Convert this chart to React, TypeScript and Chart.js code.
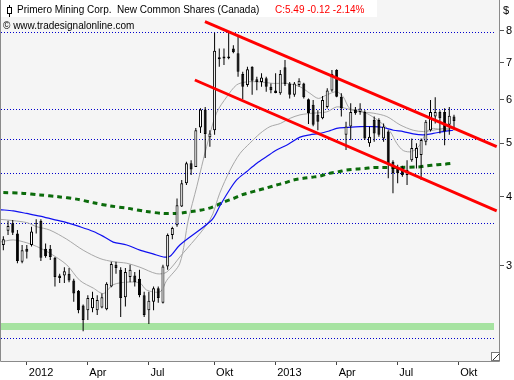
import React, { useEffect, useRef } from "react";
import { Chart, registerables } from "chart.js";

Chart.register(...registerables);

// ---- weekly candles (first candle = week -5, week 0 = first week of 2012) ----
const FIRST_WEEK = -5;
const opens = [
  3.27, 3.47, 3.58, 3.43, 3.05, 3.22, 3.27, 3.58, 3.62, 3.22,
  3.22, 3.10, 2.88, 2.88, 2.90, 2.82, 2.70, 2.54, 2.49, 2.51,
  2.49, 2.52, 2.50, 2.75, 3.01, 2.95, 2.63, 2.86, 2.88, 2.84,
  2.65, 2.49, 2.58, 2.73, 2.57, 2.99, 3.41, 3.55, 3.84, 4.23,
  4.60, 4.53, 5.34, 5.76, 5.13, 5.28, 7.10, 7.18, 7.18, 7.43,
  7.28, 6.68, 6.38, 6.88, 6.53, 6.46, 6.56, 6.33, 6.23, 6.16,
  6.87, 6.42, 6.12, 6.38, 6.42, 6.01, 5.87, 5.63, 5.55, 5.82,
  6.23, 6.79, 6.07, 5.18, 5.36, 5.76, 5.70, 5.70, 5.00, 5.51,
  5.51, 5.10, 5.25, 4.63, 4.52, 4.52, 4.38, 4.66, 4.70, 4.76,
  5.03, 5.28, 5.59, 5.70, 5.70, 5.40, 5.59,
];
const highs = [
  3.39, 3.62, 3.63, 3.48, 3.27, 3.27, 3.53, 3.64, 3.64, 3.29,
  3.27, 3.11, 2.90, 2.98, 2.97, 2.84, 2.71, 2.55, 2.65, 2.69,
  2.65, 2.67, 2.80, 3.05, 3.05, 2.98, 2.97, 3.01, 2.92, 2.95,
  2.69, 2.69, 2.75, 2.75, 3.01, 3.43, 3.53, 3.97, 4.29, 4.63,
  4.66, 5.33, 5.79, 5.82, 5.28, 7.93, 7.43, 7.43, 7.96, 7.53,
  7.86, 6.74, 6.88, 6.90, 6.60, 6.70, 6.60, 6.42, 6.70, 6.79,
  7.08, 6.46, 6.46, 6.56, 6.44, 6.03, 5.99, 5.74, 6.09, 6.29,
  6.79, 6.81, 6.16, 5.47, 5.91, 5.82, 5.91, 5.74, 5.36, 5.59,
  5.55, 5.43, 5.28, 4.66, 4.57, 4.55, 4.66, 5.10, 5.00, 5.10,
  5.51, 5.99, 6.06, 5.74, 5.79, 5.82, 5.63,
];
const lows = [
  3.20, 3.41, 3.41, 3.03, 3.03, 3.09, 3.25, 3.43, 3.06, 3.10,
  3.07, 2.75, 2.79, 2.79, 2.80, 2.58, 2.46, 2.28, 2.39, 2.47,
  2.44, 2.51, 2.49, 2.74, 2.90, 2.42, 2.53, 2.80, 2.75, 2.63,
  2.42, 2.35, 2.49, 2.57, 2.56, 2.95, 3.35, 3.53, 3.83, 4.20,
  4.38, 4.53, 5.22, 4.70, 4.93, 5.18, 6.88, 6.93, 7.10, 7.28,
  6.60, 6.01, 6.33, 6.12, 6.24, 6.33, 6.20, 6.16, 6.16, 6.12,
  6.35, 6.03, 6.07, 6.33, 6.03, 5.42, 5.37, 5.28, 5.53, 5.78,
  6.20, 6.06, 5.59, 4.86, 5.07, 5.63, 5.63, 5.07, 4.93, 5.03,
  5.14, 5.03, 4.32, 4.06, 4.23, 4.35, 4.20, 4.63, 4.50, 4.29,
  4.96, 5.25, 5.43, 5.21, 4.96, 5.18, 5.28,
];
const closes = [
  3.35, 3.54, 3.44, 3.06, 3.20, 3.18, 3.46, 3.57, 3.10, 3.12,
  3.11, 2.86, 2.85, 2.93, 2.82, 2.67, 2.49, 2.39, 2.62, 2.62,
  2.60, 2.63, 2.78, 3.02, 2.97, 2.62, 2.92, 2.95, 2.80, 2.65,
  2.44, 2.59, 2.73, 2.62, 2.99, 3.41, 3.51, 3.86, 4.23, 4.60,
  4.48, 5.28, 5.76, 5.20, 5.21, 7.36, 7.16, 7.12, 7.13, 7.31,
  6.74, 6.33, 6.81, 6.49, 6.46, 6.58, 6.33, 6.24, 6.17, 6.68,
  6.40, 6.12, 6.42, 6.49, 6.06, 5.67, 5.40, 5.47, 5.99, 6.23,
  6.68, 6.07, 5.78, 5.36, 5.70, 5.67, 5.78, 5.10, 5.14, 5.21,
  5.18, 5.36, 4.60, 4.41, 4.41, 4.38, 4.47, 4.90, 4.90, 5.07,
  5.47, 5.70, 5.70, 5.55, 5.25, 5.61, 5.49,
];

// ---- averages (week, price) ----
const grayFastWeeks = [-5.7, -2.9, 0, 2.1, 4.9, 8.5, 11.3, 14.2, 16.3, 18.4, 21.3, 24.1, 25.5, 28.4, 29.8, 32.6, 34.4, 36.2, 38.3, 40.4, 42.6, 44.7, 46.8, 49.7, 52.5, 55.4, 58.2, 60.3, 62.1, 63.9, 66, 67.4, 68.8, 70.9, 73, 75.2, 77.4, 78.8, 80.2, 82, 83.7, 85.2, 86.6, 88.7, 90.8];
const grayFastValues = [3.31, 3.34, 3.30, 3.25, 3.16, 3.01, 2.82, 2.73, 2.67, 2.77, 2.80, 2.79, 2.71, 2.69, 2.82, 3.03, 3.63, 4.17, 4.93, 5.67, 6.07, 6.38, 6.46, 6.46, 6.42, 6.42, 6.33, 6.16, 6.03, 6.12, 6.20, 6.07, 5.78, 5.74, 5.63, 5.47, 5.25, 5.00, 4.85, 4.83, 4.96, 5.25, 5.32, 5.28, 5.32];
const graySlowWeeks = [-5.7, -2.9, 0, 2.1, 4.9, 8.5, 12, 15.6, 18.4, 21.3, 24.1, 27.7, 29.8, 32.6, 39, 41.1, 43.3, 45.4, 47.5, 49.7, 51.8, 54, 56.1, 58.2, 61, 63.9, 66, 68.1, 70.9, 73.8, 76.7, 79.5, 82.3, 84.5, 86.6, 88.7, 90.8];
const graySlowValues = [3.64, 3.62, 3.59, 3.53, 3.48, 3.35, 3.20, 3.09, 3.05, 3.03, 2.98, 2.90, 2.92, 3.11, 3.63, 4.06, 4.47, 4.79, 5.00, 5.21, 5.36, 5.43, 5.55, 5.63, 5.67, 5.70, 5.82, 5.78, 5.70, 5.67, 5.59, 5.40, 5.28, 5.25, 5.28, 5.32, 5.32];
const blueWeeks = [-5.7, -2.9, 0, 2.8, 5.6, 8.5, 11.3, 14.2, 16.3, 18.4, 21.3, 24.1, 26.9, 29.1, 30.5, 32.6, 39.4, 41.2, 42.9, 44.7, 46.8, 49, 51.1, 53.2, 55.7, 58.2, 60.3, 62.5, 64.6, 66, 68.1, 71, 73.8, 75.9, 78.1, 80.2, 82.3, 84.5, 86.6, 88.7, 90.8];
const blueValues = [3.79, 3.77, 3.73, 3.69, 3.64, 3.59, 3.53, 3.46, 3.39, 3.31, 3.27, 3.20, 3.15, 3.11, 3.12, 3.27, 3.63, 3.86, 4.08, 4.29, 4.44, 4.60, 4.73, 4.86, 4.98, 5.13, 5.18, 5.21, 5.27, 5.32, 5.34, 5.36, 5.36, 5.34, 5.28, 5.25, 5.20, 5.18, 5.21, 5.25, 5.28];
const greenWeeks = [-5, -1.1, 2.8, 6.7, 10.6, 14.2, 17.7, 21.6, 25.5, 29.1, 31.1, 33.3, 35.1, 36.9, 38.7, 40.5, 42.2, 44, 45.8, 47.5, 49.3, 51.1, 53.2, 55, 56.8, 58.9, 60.7, 62.5, 64.4, 66.4, 68.1, 70.3, 72, 73.8, 75.6, 79.5, 83.4, 85.2, 87.2, 88.9, 90.8];
const greenValues = [4.07, 4.06, 4.03, 4.00, 3.96, 3.90, 3.85, 3.81, 3.76, 3.73, 3.73, 3.74, 3.76, 3.78, 3.81, 3.86, 3.92, 3.97, 4.03, 4.07, 4.11, 4.15, 4.20, 4.24, 4.29, 4.32, 4.34, 4.36, 4.41, 4.44, 4.47, 4.49, 4.50, 4.52, 4.52, 4.52, 4.53, 4.55, 4.57, 4.58, 4.60];

// ---- trend channel ----
const upperChannelWeeks = [37.95, 100.1];
const upperChannelValues = [8.31, 4.93];
const lowerChannelWeeks = [35.8, 100.1];
const lowerChannelValues = [6.51, 3.77];

// ---- horizontal levels ----
const supportLevels = [7.97, 5.78, 5.10, 4.42, 3.58, 2.22];
const bandLow = 2.29;
const bandHigh = 2.36;
const LEVEL_END_WEEK = 99.6;

// ---- axes ----
const xTickWeeks = [0, 12.9, 25.9, 39.9, 52.9, 66, 78.9, 91.9];
const xTickLabels = ["2012", "Apr", "Jul", "Okt", "2013", "Apr", "Jul", "Okt"];
const yTicks = [3, 4, 5, 6, 7, 8];
const X_MIN = -5.71;
const X_MAX = 100.8;
const Y_MIN = 2.0146;
const Y_MAX = 9.094;

// ---- texts ----
const titleText = "Primero Mining Corp.  New Common Shares (Canada)";
const quoteText = "C:5.49 -0.12 -2.14%";
const sourceText = "\u00A9 www.tradesignalonline.com";
const currencyText = "$";

const FONT = "'Liberation Sans', Arial, sans-serif";

const decorPlugin = {
  id: "decor",
  beforeDraw(chart: any) {
    const { ctx, chartArea: a, scales } = chart;
    ctx.save();
    ctx.fillStyle = "#ffffff";
    ctx.fillRect(0, 0, chart.width, chart.height);
    ctx.fillStyle = "#f5f5f5";
    ctx.fillRect(a.left, a.top, a.right - a.left, a.bottom - a.top);
    const yTop = scales.y.getPixelForValue(bandHigh);
    const yBot = scales.y.getPixelForValue(bandLow);
    const xEnd = scales.x.getPixelForValue(LEVEL_END_WEEK);
    ctx.fillStyle = "#a6e3a1";
    ctx.fillRect(a.left + 1, Math.round(yTop), Math.round(xEnd - a.left - 1), Math.round(yBot - yTop));
    // dotted support / resistance levels
    ctx.strokeStyle = "#0000cc";
    ctx.lineWidth = 1;
    ctx.setLineDash([1, 2]);
    supportLevels.forEach((lv) => {
      const py = Math.round(scales.y.getPixelForValue(lv)) + 0.5;
      ctx.beginPath();
      ctx.moveTo(a.left + 1, py);
      ctx.lineTo(xEnd, py);
      ctx.stroke();
    });
    ctx.restore();
  },
  afterDraw(chart: any) {
    const { ctx, chartArea: a } = chart;
    ctx.save();
    ctx.strokeStyle = "#8a8a8a";
    ctx.lineWidth = 1;
    ctx.beginPath();
    ctx.moveTo(a.left + 0.5, a.top);
    ctx.lineTo(a.left + 0.5, a.bottom + 0.5);
    ctx.lineTo(a.right - 0.5, a.bottom + 0.5);
    ctx.lineTo(a.right - 0.5, a.top);
    ctx.stroke();
    ctx.fillStyle = "#ffffff";
    ctx.fillRect(a.right - 8, a.bottom - 8, 7, 7);
    ctx.strokeStyle = "#777";
    ctx.strokeRect(a.right - 8.5, a.bottom - 8.5, 8, 8);
    ctx.beginPath();
    ctx.moveTo(a.right - 7, a.bottom - 1);
    ctx.lineTo(a.right - 1, a.bottom - 7);
    ctx.strokeStyle = "#333";
    ctx.stroke();
    ctx.fillStyle = "#ffffff";
    ctx.fillRect(1, 0, 376, 17);
    ctx.strokeStyle = "#000";
    ctx.beginPath();
    ctx.moveTo(9.5, 5);
    ctx.lineTo(9.5, 17);
    ctx.stroke();
    ctx.fillStyle = "#ffffff";
    ctx.fillRect(7.5, 7.5, 4, 6);
    ctx.strokeRect(7.5, 7.5, 4, 6);
    ctx.font = `10px ${FONT}`;
    ctx.textBaseline = "alphabetic";
    ctx.textAlign = "left";
    ctx.fillStyle = "#000";
    ctx.fillText(titleText, 17, 13, 255);
    ctx.fillStyle = "#ff0000";
    ctx.fillText(quoteText, 275, 13, 100);
    ctx.fillStyle = "#000";
    ctx.fillText(sourceText, 3, 29);
    ctx.font = `11px ${FONT}`;
    ctx.fillText(currencyText, 503, 14);
    ctx.restore();
  },
};

export default function App() {
  const ref = useRef<HTMLCanvasElement>(null);

  useEffect(() => {
    const canvas = ref.current;
    if (!canvas) return;
    const weeks = opens.map((_, i) => FIRST_WEEK + i);
    const xy = (ws: number[], vs: number[]) => ws.map((w, i) => ({ x: w, y: vs[i] }));
    const datasets: any[] = [];

    datasets.push({
      type: "line",
      data: xy(greenWeeks, greenValues),
      borderColor: "#0b6b0b",
      borderWidth: 3,
      borderDash: [5, 4],
      pointRadius: 0,
      tension: 0.3,
      order: 19,
    });
    datasets.push({
      type: "line",
      data: xy(graySlowWeeks, graySlowValues),
      borderColor: "#a8a8a8",
      borderWidth: 1,
      pointRadius: 0,
      tension: 0.3,
      order: 18,
    });
    datasets.push({
      type: "line",
      data: xy(grayFastWeeks, grayFastValues),
      borderColor: "#a8a8a8",
      borderWidth: 1,
      pointRadius: 0,
      tension: 0.3,
      order: 17,
    });
    datasets.push({
      type: "line",
      data: xy(blueWeeks, blueValues),
      borderColor: "#1010f0",
      borderWidth: 1.2,
      pointRadius: 0,
      tension: 0.3,
      order: 16,
    });
    datasets.push({
      type: "bar",
      data: weeks.map((w, i) => ({ x: w, y: [lows[i], highs[i]] })),
      backgroundColor: "#000",
      barThickness: 1,
      grouped: false,
      inflateAmount: 0,
      order: 15,
    });
    datasets.push({
      type: "bar",
      data: weeks.map((w, i) => ({ x: w, y: [opens[i], closes[i]] })),
      backgroundColor: (c: any) => {
        const i = c.dataIndex;
        return closes[i] >= opens[i] ? "#ffffff" : "#000000";
      },
      borderColor: "#000",
      borderWidth: 1,
      borderSkipped: false,
      barThickness: 3,
      grouped: false,
      inflateAmount: 0,
      order: 14,
    });
    datasets.push({
      type: "line",
      data: xy(upperChannelWeeks, upperChannelValues),
      borderColor: "#ff0000",
      borderWidth: 2.8,
      pointRadius: 0,
      order: 1,
    });
    datasets.push({
      type: "line",
      data: xy(lowerChannelWeeks, lowerChannelValues),
      borderColor: "#ff0000",
      borderWidth: 2.8,
      pointRadius: 0,
      order: 1,
    });

    Chart.defaults.font.family = FONT;

    const chart = new Chart(canvas, {
      type: "bar",
      data: { datasets },
      plugins: [decorPlugin],
      options: {
        responsive: false,
        animation: false,
        devicePixelRatio: 1,
        events: [],
        layout: { padding: 0 },
        plugins: { legend: { display: false }, tooltip: { enabled: false } },
        scales: {
          x: {
            type: "linear",
            offset: false,
            min: X_MIN,
            max: X_MAX,
            position: "bottom",
            afterBuildTicks: (s: any) => {
              s.ticks = xTickWeeks.map((v) => ({ value: v }));
            },
            afterFit: (s: any) => {
              s.height = 19;
              s.paddingLeft = 0;
              s.paddingRight = 0;
              s.paddingTop = 0;
              s.paddingBottom = 0;
            },
            ticks: {
              autoSkip: false,
              maxRotation: 0,
              minRotation: 0,
              align: "start",
              labelOffset: 2,
              padding: 1,
              color: "#000",
              font: { size: 11, family: FONT },
              callback: (_v: any, i: number) => xTickLabels[i],
            },
            grid: { offset: false, drawOnChartArea: false, drawTicks: true, tickLength: 4, color: "#444" },
            border: { display: false },
          },
          y: {
            type: "logarithmic",
            position: "right",
            min: Y_MIN,
            max: Y_MAX,
            afterBuildTicks: (s: any) => {
              s.ticks = yTicks.map((v) => ({ value: v }));
            },
            afterFit: (s: any) => {
              s.width = 14;
              s.paddingLeft = 0;
              s.paddingRight = 0;
              s.paddingTop = 0;
              s.paddingBottom = 0;
            },
            ticks: {
              autoSkip: false,
              padding: 2,
              color: "#000",
              font: { size: 11, family: FONT },
              callback: (v: any) => String(v),
            },
            grid: { drawOnChartArea: false, drawTicks: true, tickLength: 4, color: "#555" },
            border: { display: false },
          },
        },
      },
    } as any);

    return () => chart.destroy();
  }, []);

  return (
    <canvas
      ref={ref}
      width={514}
      height={380}
      style={{ position: "absolute", left: 0, top: 0, width: 514, height: 380 }}
    />
  );
}
